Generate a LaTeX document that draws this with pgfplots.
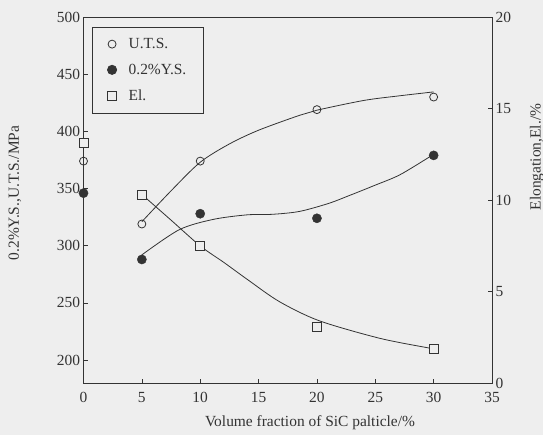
\documentclass[border=0pt]{standalone}
\usepackage{pgfplots}
\pgfplotsset{compat=1.18}
\usepackage{fontspec}
\setmainfont{Liberation Serif}
\definecolor{ink}{HTML}{333333}
\definecolor{paper}{HTML}{EEEEEE}

% strength (MPa) against SiC volume fraction
\pgfplotstableread{
x   y
0   374
5   319
10  374
20  419
30  430
}\uts
\pgfplotstableread{
x   y
0   346
5   288
10  328
20  324
30  379
}\ys
% elongation (%)
\pgfplotstableread{
x   y
0   13.1
5   10.3
10  7.49
20  3.08
30  1.86
}\elong

% fitted trend curves
\pgfplotstableread{
x    y
5    321
7.5  348
10   373
12.5 389
15   401
18.5 414
20   418.5
24   427
27   431
30   434.5
}\utsfit
\pgfplotstableread{
x    y
5    292
8.2  314
11.1 323
14   327
16.2 327.5
18.5 330
21   337
22.8 344
25   353
27.1 362
29.7 378
30   380
}\ysfit
\pgfplotstableread{
x    y
5    10.3
7.5  8.9
10   7.49
12   6.6
14.1 5.63
16.8 4.44
20.2 3.40
25.4 2.44
29.7 1.90
30   1.86
}\elfit

\begin{document}
\begin{tikzpicture}[x=1bp,y=1bp]
\fill[paper] (0,0) rectangle (543,435);
\path[use as bounding box] (0,0) rectangle (543,435);
\pgfplotsset{
  common/.style={
    at={(83.5bp,52bp)}, anchor=south west, scale only axis,
    width=408.5bp, height=366bp, xmin=0, xmax=35, clip=false,
    axis line style={ink, line width=0.9pt},
    tick style={ink, line width=0.7pt}, tick align=inside,
    major tick length=4bp,
    ticklabel style={font=\fontsize{15.5}{18}\selectfont, text=ink},
    /pgf/number format/assume math mode=true,
  },
}
\begin{axis}[common,
  ymin=180, ymax=500, ytick={200,250,...,500},
  xtick={0,5,...,35}, xtick pos=bottom, ytick pos=left,
  xticklabel style={yshift=-6bp},
  legend cell align=left,
  legend style={at={(0.021,0.973)}, anchor=north west,
    draw=ink, line width=0.8pt, fill=none,
    font=\fontsize{15.5}{18}\selectfont, text=ink,
    inner xsep=15bp, inner ysep=9bp, row sep=10bp, column sep=10bp},
]
\addplot[ink, line width=0.8pt, smooth, forget plot] table {\utsfit};
\addplot[ink, line width=0.8pt, smooth, forget plot] table {\ysfit};
\addplot[only marks, mark=o, mark size=4bp, mark options={ink, line width=0.8pt, fill=paper}] table {\uts};
\addplot[only marks, mark=*, mark size=4.6bp, mark options={ink, fill=ink}] table {\ys};
\addlegendimage{only marks, mark=square, mark size=4.5bp, mark options={ink, line width=0.8pt}}
\legend{U.T.S., 0.2\%Y.S., El.}
\end{axis}
\begin{axis}[common,
  ymin=0, ymax=20, ytick={0,5,...,20},
  axis x line=none, axis y line*=right,
  ytick pos=right,
]
\addplot[ink, line width=0.8pt, smooth] table {\elfit};
\addplot[only marks, mark=square*, mark size=4.5bp, mark options={ink, line width=0.8pt, fill=paper}] table {\elong};
\end{axis}
\node[rotate=90, text=ink, font=\fontsize{15.5}{18}\selectfont] at (15,242) {0.2\%Y.S.,U.T.S./MPa};
\node[rotate=90, text=ink, font=\fontsize{15.5}{18}\selectfont] at (537,278) {Elongation,El./\%};
\node[text=ink, font=\fontsize{15.5}{18}\selectfont] at (310,12) {Volume fraction of SiC palticle/\%};
\end{tikzpicture}
\end{document}
